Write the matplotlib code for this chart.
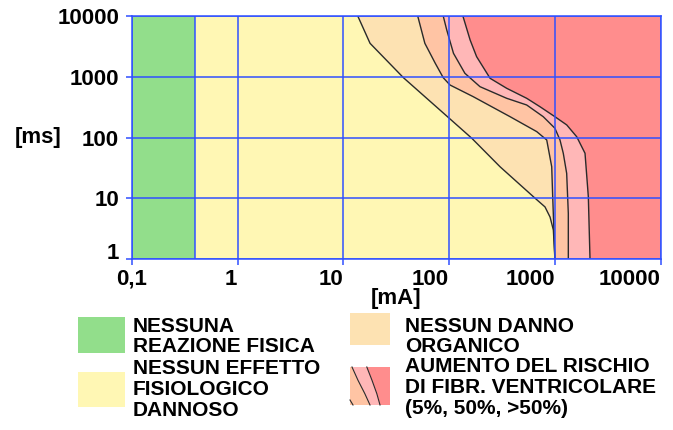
import matplotlib.pyplot as plt
import numpy as np
from matplotlib.patches import Rectangle
from matplotlib.ticker import NullLocator

plt.rcParams['font.family'] = ['Liberation Sans', 'DejaVu Sans']
plt.rcParams['font.weight'] = 'bold'

############### dati: corrente [mA] - durata [ms] ###############
green_limit_ma = 0.4
c1_ma = [13.7, 17.9, 37, 59, 98, 164, 303, 650, 806, 900, 967, 1000]
c1_ms = [10000, 3550, 965, 470, 215, 97, 33, 10, 7.2, 4.9, 3.0, 1]
c2_ma = [50.5, 59, 74, 88, 102, 169, 377, 673, 837, 933, 953, 981, 1000]
c2_ms = [10000, 3550, 1665, 965, 731, 470, 220, 125, 91, 33, 10.6, 2.7, 1]
c3_ma = [88, 95, 110, 141, 196, 350, 541, 776, 1000, 1117, 1200, 1292, 1339, 1339]
c3_ms = [10000, 5890, 2430, 1140, 686, 442, 343, 220, 142, 91, 55, 25.7, 5.65, 1]
c4_ma = [135, 158, 182, 244, 350, 541, 723, 1000, 1294, 1607, 1926, 2070, 2147]
c4_ms = [10000, 4030, 2140, 943, 646, 442, 321, 220, 161, 103, 55, 10.6, 1]

x_ticks = [0.1, 1, 10, 100, 1000, 10000]
x_tick_labels = ['0,1', '1', '10', '100', '1000', '10000']
y_ticks = [1, 10, 100, 1000, 10000]
y_tick_labels = ['1', '10', '100', '1000', '10000']

legend_labels = [["NESSUNA", "REAZIONE FISICA"],
                 ["NESSUN EFFETTO", "FISIOLOGICO", "DANNOSO"],
                 ["NESSUN DANNO", "ORGANICO"],
                 ["AUMENTO DEL RISCHIO", "DI FIBR. VENTRICOLARE", "(5%, 50%, >50%)"]]

BLUE = '#3050FF'
GREEN = '#92DE8B'
YELLOW = '#FFF7B4'
ORANGE = '#FDE2B2'
SALMON = '#FFC4A4'
PINK = '#FFB7B7'
RED = '#FF8D8D'
CURVE = '#2a2a2a'

W, H = 673, 430
fig = plt.figure(figsize=(W / 100, H / 100), dpi=100)
ax = fig.add_axes([131.7 / W, 1 - 259 / H, 529 / W, 243 / H])
ax.set_xscale('log')
ax.set_yscale('log')
xmin, xmax = x_ticks[0], x_ticks[-1]
ymin, ymax = y_ticks[0], y_ticks[-1]

############ zone ############
ax.axvspan(xmin, green_limit_ma, color=GREEN, lw=0)
ax.fill([green_limit_ma, green_limit_ma] + c1_ma, [ymin, ymax] + c1_ms, color=YELLOW, lw=0)
ax.fill(c1_ma + c2_ma[::-1], c1_ms + c2_ms[::-1], color=ORANGE, lw=0)
ax.fill(c2_ma + c3_ma[::-1], c2_ms + c3_ms[::-1], color=SALMON, lw=0)
ax.fill(c3_ma + c4_ma[::-1], c3_ms + c4_ms[::-1], color=PINK, lw=0)
ax.fill(c4_ma + [xmax, xmax], c4_ms + [ymin, ymax], color=RED, lw=0)

for cx, cy in [(c1_ma, c1_ms), (c2_ma, c2_ms), (c3_ma, c3_ms), (c4_ma, c4_ms)]:
    ax.plot(cx, cy, color=CURVE, lw=1.0)

ax.axvline(green_limit_ma, color=BLUE, lw=1.1, zorder=2.5)

ax.set_xlim(xmin, xmax)
ax.set_ylim(ymin, ymax)
ax.set_xticks(x_ticks)
ax.set_xticklabels(x_tick_labels)
ax.set_yticks(y_ticks)
ax.set_yticklabels(y_tick_labels)
ax.xaxis.set_minor_locator(NullLocator())
ax.yaxis.set_minor_locator(NullLocator())
ax.set_axisbelow(False)
ax.grid(True, which='major', color=BLUE, lw=1.1)
ax.tick_params(axis='both', direction='out', length=4, width=1.1, color=BLUE, labelsize=16)
ax.tick_params(axis='x', pad=3)
ax.tick_params(axis='y', pad=5)
for i, lab in enumerate(ax.get_xticklabels()):
    lab.set_horizontalalignment('center' if i == 0 else 'right')
ax.get_yticklabels()[0].set_verticalalignment('baseline')
for s in ax.spines.values():
    s.set_color(BLUE)
    s.set_linewidth(1.1)

############ etichette e legenda (coordinate in pixel) ############
ov = fig.add_axes([0, 0, 1, 1])
ov.set_xlim(0, W)
ov.set_ylim(H, 0)
ov.axis('off')

ov.text(38.5, 137, "[ms]", fontsize=16, ha='center', va='center')
ov.text(396, 304, "[mA]", fontsize=16, ha='center', va='baseline')

swatch_colors = [GREEN, YELLOW, ORANGE]
swatch_boxes = [(78, 317, 47, 36), (78, 372, 47, 35), (350, 313, 40, 32)]
for (x0, y0, w, h), c in zip(swatch_boxes, swatch_colors):
    ov.add_patch(Rectangle((x0, y0), w, h, color=c, lw=0))

# campione a strisce per la zona rossa
sx, sy, sw, sh = 350, 367, 40, 38
l1 = np.array([(0.05, 0), (0.2, 0.35), (0.37, 0.7), (0.5, 1.0)])
l2 = np.array([(0.42, 0), (0.55, 0.35), (0.67, 0.7), (0.75, 1.0)])
def to_px(p):
    return sx + p[:, 0] * sw, sy + p[:, 1] * sh
x1, y1 = to_px(l1)
x2, y2 = to_px(l2)
ov.fill(np.r_[sx, x1, sx], np.r_[sy, y1, sy + sh], color=SALMON, lw=0)
ov.fill(np.r_[x1, x2[::-1]], np.r_[y1, y2[::-1]], color=PINK, lw=0)
ov.fill(np.r_[x2, sx + sw, sx + sw], np.r_[y2, sy + sh, sy], color=RED, lw=0)
ov.plot(x1, y1, color=CURVE, lw=0.8)
ov.plot(x2, y2, color=CURVE, lw=0.8)
ov.plot([sx, sx + 3], [sy + sh - 5, sy + sh], color=CURVE, lw=0.8)

text_pos = [(133, 331.5), (133, 374.5), (405, 331.5), (405, 372)]
line_step = 20.8
for (tx, ty), lines in zip(text_pos, legend_labels):
    for k, line in enumerate(lines):
        ov.text(tx, ty + k * line_step, line, fontsize=15, ha='left', va='baseline')

plt.savefig('out.png', dpi=100)
